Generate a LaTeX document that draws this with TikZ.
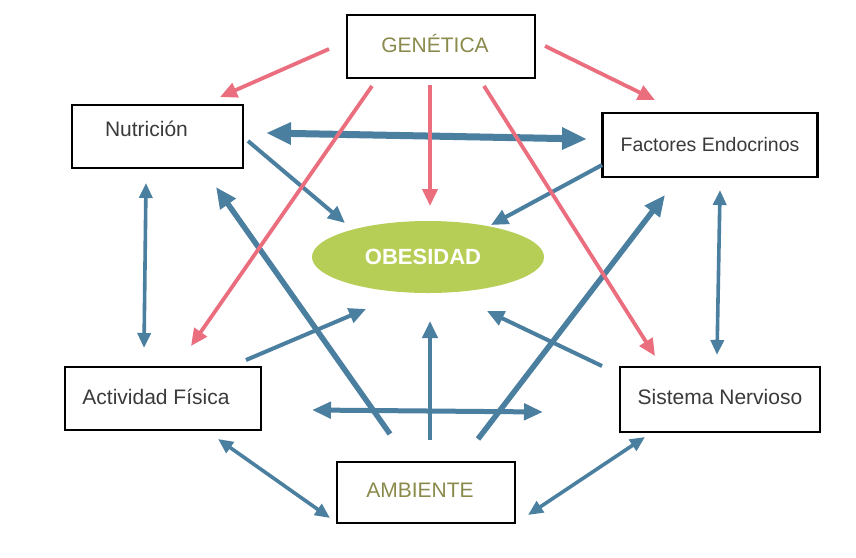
\documentclass[tikz,border=0pt]{standalone}
\usepackage{fontspec}
\setmainfont{Liberation Sans}
\usetikzlibrary{arrows.meta,shapes.geometric}
\definecolor{redc}{HTML}{EA6E7E}
\definecolor{bluec}{HTML}{4A7FA0}
\definecolor{olivec}{HTML}{8A8A4C}
\definecolor{greenc}{HTML}{B6CE56}
\definecolor{txtc}{HTML}{3A3A3A}
\begin{document}
\begin{tikzpicture}[x=1pt,y=-1pt,
  box/.style={draw=black,line width=2.2pt,fill=white,inner sep=0pt},
  txt/.style={text=txtc,font=\fontsize{21}{25}\selectfont,inner sep=0pt},
  oltxt/.style={text=olivec,font=\fontsize{21}{25}\selectfont,inner sep=0pt},
  redarr/.style={draw=redc,line width=3.8pt,-{Triangle[length=17pt,width=15pt]}},
  bluethin/.style={draw=bluec,line width=3.6pt,{Triangle[length=15pt,width=13pt]}-{Triangle[length=15pt,width=13pt]}},
  blueone/.style={draw=bluec,line width=4pt,-{Triangle[length=17pt,width=15pt]}},
  bluethick/.style={draw=bluec,line width=5.5pt,-{Triangle[length=21pt,width=18pt]}},
  bluemid/.style={draw=bluec,line width=5pt,{Triangle[length=19pt,width=16pt]}-{Triangle[length=19pt,width=16pt]}},
  bluebig/.style={draw=bluec,line width=7pt,{Triangle[length=25pt,width=21pt]}-{Triangle[length=25pt,width=21pt]}}]
\useasboundingbox[fill=white] (0,0) rectangle (856,557);

% nodes
\node (gen) [box,minimum width=188pt,minimum height=63pt,
  label={[oltxt,xshift=-6pt,yshift=3pt]center:GENÉTICA}] at (441,46.5) {};
\node (nut) [box,minimum width=171pt,minimum height=63pt,
  label={[txt,xshift=-11pt,yshift=8pt]center:Nutrición}] at (157.5,136.5) {};
\node (endo) [box,minimum width=215pt,minimum height=64pt,
  label={[txt,font=\fontsize{19.5}{23}\selectfont,xshift=0pt,yshift=0pt]center:Factores Endocrinos}] at (710,145) {};
\node (act) [box,minimum width=196pt,minimum height=63pt,
  label={[txt,xshift=-7pt,yshift=2pt]center:Actividad Física}] at (163,398.5) {};
\node (sis) [box,minimum width=200pt,minimum height=65pt,
  label={[txt,xshift=0pt,yshift=3pt]center:Sistema Nervioso}] at (720,399.5) {};
\node (amb) [box,minimum width=178pt,minimum height=61pt,
  label={[oltxt,xshift=-6pt,yshift=2pt]center:AMBIENTE}] at (426,492.5) {};
\node (obe) [ellipse,fill=greenc,minimum width=232pt,minimum height=72pt,inner sep=0pt,
  label={[text=white,font=\fontsize{22}{26}\selectfont\bfseries,inner sep=0pt,xshift=-5pt,yshift=0pt]center:OBESIDAD}] at (428,257) {};

% connector end points
\coordinate (r1a) at (329,49);  \coordinate (r1b) at (220,97);
\coordinate (r2a) at (545,46);  \coordinate (r2b) at (655,100);
\coordinate (r3a) at (430,85);  \coordinate (r3b) at (430,206);
\coordinate (r4a) at (372,86);  \coordinate (r4b) at (191,346);
\coordinate (r5a) at (484,86);  \coordinate (r5b) at (655,356);

\coordinate (b1a) at (266,133); \coordinate (b1b) at (587,139);
\coordinate (b2a) at (248,141); \coordinate (b2b) at (345,223);
\coordinate (b3a) at (602,165); \coordinate (b3b) at (491,225);
\coordinate (b4a) at (246,360); \coordinate (b4b) at (366,309);
\coordinate (b5a) at (602,366); \coordinate (b5b) at (487,311);
\coordinate (b6a) at (430,440); \coordinate (b6b) at (430,321);
\coordinate (b7a) at (390,434); \coordinate (b7b) at (216,187);
\coordinate (b8a) at (478,439); \coordinate (b8b) at (665,195);
\coordinate (b9a) at (312,410); \coordinate (b9b) at (543,412);
\coordinate (b10a) at (146,183); \coordinate (b10b) at (144,348);
\coordinate (b11a) at (720,190); \coordinate (b11b) at (717,355);
\coordinate (b12a) at (218,439); \coordinate (b12b) at (330,518);
\coordinate (b13a) at (645,437); \coordinate (b13b) at (528,515);

% blue connectors
\draw[bluebig] (b1a) -- (b1b);
\draw[blueone] (b2a) -- (b2b);
\draw[blueone] (b3a) -- (b3b);
\draw[blueone] (b4a) -- (b4b);
\draw[blueone] (b5a) -- (b5b);
\draw[blueone] (b6a) -- (b6b);
\draw[bluethick] (b7a) -- (b7b);
\draw[bluethick] (b8a) -- (b8b);
\draw[bluemid] (b9a) -- (b9b);
\draw[bluethin] (b10a) -- (b10b);
\draw[bluethin] (b11a) -- (b11b);
\draw[bluethin] (b12a) -- (b12b);
\draw[bluethin] (b13a) -- (b13b);

% red connectors
\draw[redarr] (r1a) -- (r1b);
\draw[redarr] (r2a) -- (r2b);
\draw[redarr] (r3a) -- (r3b);
\draw[redarr] (r4a) -- (r4b);
\draw[redarr] (r5a) -- (r5b);
\end{tikzpicture}
\end{document}
